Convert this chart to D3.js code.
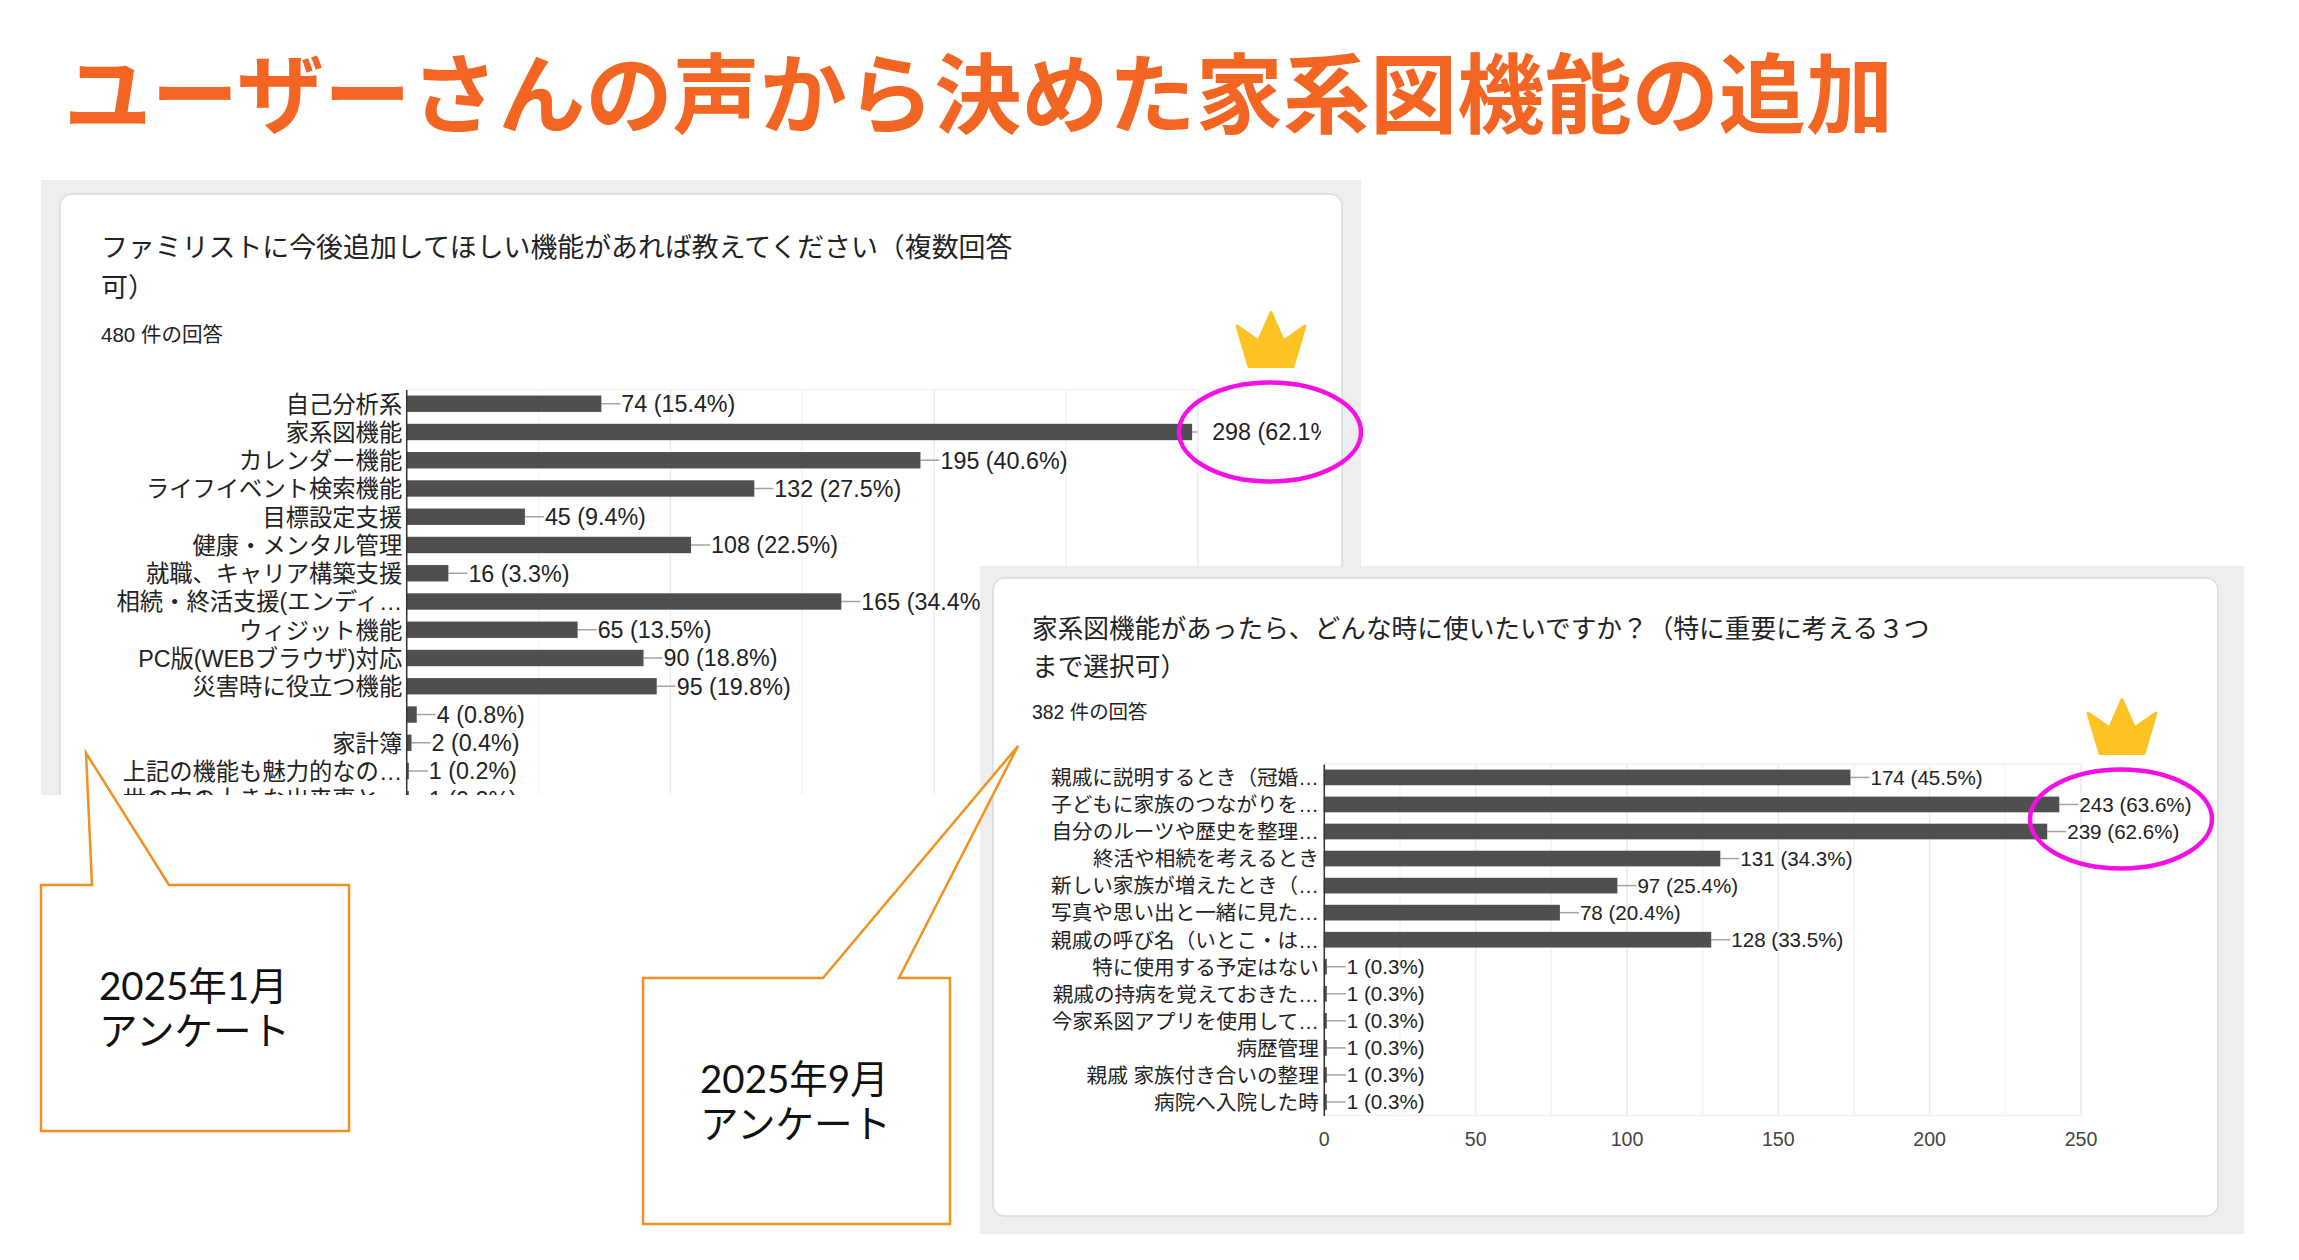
<!DOCTYPE html>
<html lang="ja">
  <head>
    <meta charset="utf-8">
    <title>ユーザーさんの声から決めた家系図機能の追加</title>
    <style>
      body { margin: 0; padding: 0; background: #fff; }
      svg { display: block; }
      text { font-family: "Liberation Sans", "Noto Sans CJK JP", sans-serif; fill: #222; }
    </style>
  </head>
  <body>
    <div id="chart"></div>
    <script src="https://d3js.org/d3.v7.min.js"></script>
    <script>
    var mainTitle = 'ユーザーさんの声から決めた家系図機能の追加';

    var janTitle = ['ファミリストに今後追加してほしい機能があれば教えてください（複数回答', '可）'];
    var janCount = '480 件の回答';
    var janCategories = [
      '自己分析系', '家系図機能', 'カレンダー機能', 'ライフイベント検索機能', '目標設定支援',
      '健康・メンタル管理', '就職、キャリア構築支援', '相続・終活支援(エンディ…', 'ウィジット機能',
      'PC版(WEBブラウザ)対応', '災害時に役立つ機能', '', '家計簿', '上記の機能も魅力的なの…', '世の中の大きな出来事と…'
    ];
    var janValues = [74, 298, 195, 132, 45, 108, 16, 165, 65, 90, 95, 4, 2, 1, 1];
    var janPercents = [15.4, 62.1, 40.6, 27.5, 9.4, 22.5, 3.3, 34.4, 13.5, 18.8, 19.8, 0.8, 0.4, 0.2, 0.2];
    var janMajorTicks = [0, 100, 200, 300];
    var janMinorTicks = [50, 150, 250];

    var sepTitle = ['家系図機能があったら、どんな時に使いたいですか？（特に重要に考える３つ', 'まで選択可）'];
    var sepCount = '382 件の回答';
    var sepCategories = [
      '親戚に説明するとき（冠婚…', '子どもに家族のつながりを…', '自分のルーツや歴史を整理…', '終活や相続を考えるとき',
      '新しい家族が増えたとき（…', '写真や思い出と一緒に見た…', '親戚の呼び名（いとこ・は…', '特に使用する予定はない',
      '親戚の持病を覚えておきた…', '今家系図アプリを使用して…', '病歴管理', '親戚 家族付き合いの整理', '病院へ入院した時'
    ];
    var sepValues = [174, 243, 239, 131, 97, 78, 128, 1, 1, 1, 1, 1, 1];
    var sepPercents = [45.5, 63.6, 62.6, 34.3, 25.4, 20.4, 33.5, 0.3, 0.3, 0.3, 0.3, 0.3, 0.3];
    var sepMajorTicks = [0, 50, 100, 150, 200, 250];
    var sepMinorTicks = [25, 75, 125, 175, 225];

    var width = 2299;
    var height = 1260;

    var svg = d3.select('#chart').append('svg')
      .attr('width', width)
      .attr('height', height)
      .attr('viewBox', '0 0 ' + width + ' ' + height);

    svg.append('text')
      .text(mainTitle)
      .attr('x', 64)
      .attr('y', 127)
      .style('font-size', '87.2px')
      .style('font-weight', '700')
      .style('fill', '#f26522');

    // grey panel with the white form card on it
    function drawCard(box) {
      svg.append('rect')
        .attr('x', box.x).attr('y', box.y)
        .attr('width', box.w).attr('height', box.h)
        .style('fill', '#eeeeee');
      svg.append('rect')
        .attr('x', box.x + box.inset).attr('y', box.y + box.top)
        .attr('width', box.w - box.inset - box.right).attr('height', box.h - box.top - box.bottom)
        .attr('rx', 12).attr('ry', 12)
        .style('fill', '#fff')
        .style('stroke', '#dadce0')
        .style('stroke-width', 1.5);
    }

    function drawBars(cfg) {
      var g = svg.append('g');

      cfg.title.forEach(function(line, i) {
        g.append('text')
          .text(line)
          .attr('x', cfg.textX)
          .attr('y', cfg.titleY + i * cfg.titleGap)
          .style('font-size', cfg.titleSize + 'px');
      });
      g.append('text')
        .text(cfg.count)
        .attr('x', cfg.textX)
        .attr('y', cfg.countY)
        .style('font-size', cfg.countSize + 'px');

      var x = d3.scaleLinear().domain(cfg.xDomain).range(cfg.xRange);
      var y = d3.scaleBand()
        .domain(d3.range(cfg.categories.length))
        .range(cfg.yRange)
        .paddingInner(0.42)
        .paddingOuter(0.21);

      var plotTop = cfg.yRange[0];
      var plotBottom = cfg.yRange[1];

      // gridlines, minor first so the major ones sit on top
      [[cfg.minor, '#f4f4f4'], [cfg.major, '#ebebeb']].forEach(function(set) {
        var grid = g.append('g')
          .attr('transform', 'translate(0,' + plotBottom + ')')
          .call(d3.axisBottom(x).tickValues(set[0]).tickSize(plotTop - plotBottom).tickFormat(''));
        grid.select('.domain').remove();
        grid.selectAll('line').style('stroke', set[1]).style('stroke-width', 1.5);
      });

      g.selectAll('.edge')
        .data([plotTop, plotBottom])
        .enter().append('line')
        .attr('class', 'edge')
        .attr('x1', x.range()[0]).attr('x2', x.range()[1])
        .attr('y1', function(d) { return d; }).attr('y2', function(d) { return d; })
        .style('stroke', '#f2f2f2')
        .style('stroke-width', 1.5);

      var rows = g.selectAll('.row')
        .data(cfg.values)
        .enter().append('g')
        .attr('class', 'row');

      rows.append('line')
        .attr('x1', function(d) { return x(d); })
        .attr('x2', function(d) { return Math.min(x(d) + cfg.leader, x.range()[1]); })
        .attr('y1', function(d, i) { return y(i) + y.bandwidth() / 2; })
        .attr('y2', function(d, i) { return y(i) + y.bandwidth() / 2; })
        .style('stroke', '#a3a3a3')
        .style('stroke-width', 1.5);

      rows.append('rect')
        .attr('x', x(0))
        .attr('y', function(d, i) { return y(i); })
        .attr('width', function(d) { return x(d) - x(0); })
        .attr('height', y.bandwidth())
        .style('fill', '#4f4f4f');

      // the form crops long value labels at its right edge
      var clipId = 'clip-' + cfg.id;
      g.append('clipPath').attr('id', clipId)
        .append('rect')
        .attr('x', 0).attr('y', 0)
        .attr('width', cfg.clipRight).attr('height', height);

      rows.append('text')
        .text(function(d, i) { return d + ' (' + cfg.percents[i] + '%)'; })
        .attr('clip-path', 'url(#' + clipId + ')')
        .attr('x', function(d) { return x(d) + cfg.leader + 1; })
        .attr('y', function(d, i) { return y(i) + y.bandwidth() / 2; })
        .attr('dy', '0.36em')
        .style('font-size', cfg.fontSize + 'px');

      var yAxis = g.append('g')
        .attr('transform', 'translate(' + x(0) + ',0)')
        .call(d3.axisLeft(y).tickSize(0).tickPadding(cfg.labelPad).tickFormat(function(i) { return cfg.categories[i]; }));
      yAxis.select('.domain').style('stroke', '#333').style('stroke-width', 1.5);
      yAxis.selectAll('text')
        .attr('dy', '0.38em')
        .style('font-size', cfg.fontSize + 'px')
        .style('font-family', '"Liberation Sans", "Noto Sans CJK JP", sans-serif');

      if (cfg.showXAxis) {
        var xAxis = g.append('g')
          .attr('transform', 'translate(0,' + plotBottom + ')')
          .call(d3.axisBottom(x).tickValues(cfg.major).tickSize(0).tickPadding(16.5));
        xAxis.select('.domain').remove();
        xAxis.selectAll('text')
          .style('font-size', cfg.fontSize - 1 + 'px')
          .style('font-family', '"Liberation Sans", "Noto Sans CJK JP", sans-serif')
          .style('fill', '#444');
      }
    }

    function drawCrown(cx, top) {
      svg.append('path')
        .attr('transform', 'translate(' + (cx - 35.5) + ',' + top + ')')
        .attr('d', 'M1.5,15 L23,30 L35.5,1.5 L48,30 L69.5,15 L57.5,55.5 L13.5,55.5 Z')
        .style('fill', '#fcc322')
        .style('stroke', '#fcc322')
        .style('stroke-width', 3)
        .style('stroke-linejoin', 'round');
    }

    function drawRing(cx, cy) {
      svg.append('ellipse')
        .attr('cx', cx).attr('cy', cy)
        .attr('rx', 91).attr('ry', 49.5)
        .style('fill', 'none')
        .style('stroke', '#f50ee6')
        .style('stroke-width', 4.5);
    }

    function drawCallout(points, lines, textX, textY) {
      svg.append('polygon')
        .attr('points', points.join(' '))
        .style('fill', '#fff')
        .style('stroke', '#f2911f')
        .style('stroke-width', 2.5);
      lines.forEach(function(line, i) {
        svg.append('text')
          .text(line)
          .attr('x', textX)
          .attr('y', textY + i * 45)
          .style('font-family', 'Lato, "Noto Sans CJK JP", sans-serif')
          .style('font-size', '38.5px')
          .style('fill', '#111');
      });
    }

    drawCard({ x: 41, y: 180, w: 1320, h: 700, inset: 19, top: 14, right: 19, bottom: 0 });

    drawBars({
      id: 'jan',
      title: janTitle, count: janCount,
      textX: 101, titleY: 257, titleGap: 40, titleSize: 26.9,
      countY: 342, countSize: 20.5,
      categories: janCategories, values: janValues, percents: janPercents,
      major: janMajorTicks, minor: janMinorTicks,
      xDomain: [0, 300], xRange: [406.2, 1197.4],
      yRange: [389.6, 813.4],
      fontSize: 23.3, leader: 19, labelPad: 4, clipRight: 1321, showXAxis: false
    });

    // the first chart is cropped by a white block in the slide
    svg.append('rect')
      .attr('x', 0).attr('y', 795)
      .attr('width', 1000).attr('height', height - 795)
      .style('fill', '#fff');

    drawCard({ x: 980, y: 566, w: 1264, h: 668, inset: 13, top: 12, right: 26, bottom: 18 });

    drawBars({
      id: 'sep',
      title: sepTitle, count: sepCount,
      textX: 1032, titleY: 638, titleGap: 38, titleSize: 25.7,
      countY: 719, countSize: 19.4,
      categories: sepCategories, values: sepValues, percents: sepPercents,
      major: sepMajorTicks, minor: sepMinorTicks,
      xDomain: [0, 250], xRange: [1323.8, 2080.5],
      yRange: [763.9, 1115.5],
      fontSize: 20.6, leader: 19, labelPad: 5, clipRight: width, showXAxis: true
    });

    drawCrown(1271, 311);
    drawCrown(2122, 698);
    drawRing(1270, 432);
    drawRing(2121, 819);

    drawCallout([[41, 885], [92, 885], [86, 753], [169, 885], [349, 885], [349, 1131], [41, 1131]],
      ['2025年1月', 'アンケート'], 99, 1000);
    drawCallout([[643, 978], [823, 978], [1018, 746], [899, 978], [950, 978], [950, 1224], [643, 1224]],
      ['2025年9月', 'アンケート'], 700, 1093);
    </script>
  </body>
</html>
